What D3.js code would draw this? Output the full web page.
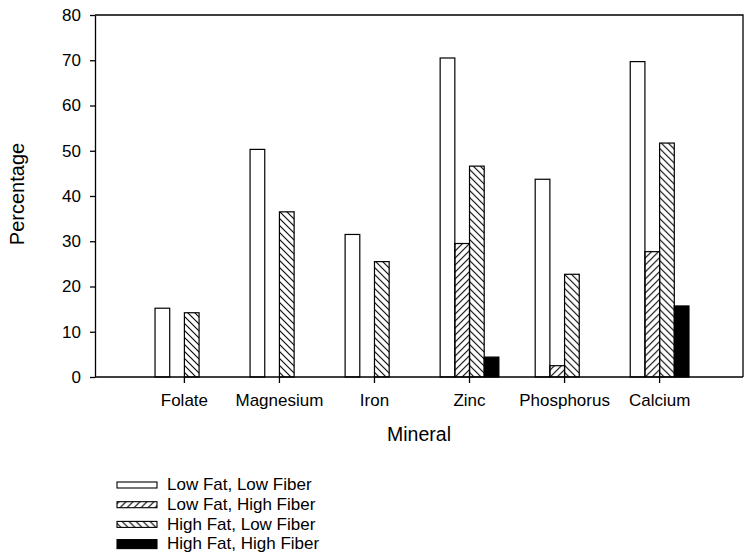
<!DOCTYPE html>
<html>
<head>
<meta charset="utf-8">
<script src="https://cdn.jsdelivr.net/npm/d3@7"></script>
<style>
  body { margin: 0; background: #fff; }
  text { font-family: "Liberation Sans", Arial, Helvetica, sans-serif; fill: #000; }
</style>
</head>
<body>
<div id="chart"></div>
<script>
// data
var minerals = ["Folate", "Magnesium", "Iron", "Zinc", "Phosphorus", "Calcium"];
var groups = ["Low Fat, Low Fiber", "Low Fat, High Fiber", "High Fat, Low Fiber", "High Fat, High Fiber"];
var lowFatLowFiber   = [15.2, 50.3, 31.5, 70.5, 43.7, 69.7];
var lowFatHighFiber  = [0, 0, 0, 29.5, 2.5, 27.7];
var highFatLowFiber  = [14.2, 36.5, 25.5, 46.6, 22.7, 51.7];
var highFatHighFiber = [0, 0, 0, 4.4, 0, 15.7];
var yTicks = [0, 10, 20, 30, 40, 50, 60, 70, 80];

var series = [lowFatLowFiber, lowFatHighFiber, highFatLowFiber, highFatHighFiber];
var fills = ["#fff", "url(#hatchUp)", "url(#hatchDown)", "#000"];

var W = 745, H = 559;
// note: "top" is taken by window.top, so plotTop
var plotLeft = 95, plotTop = 15, plotW = 648, plotH = 362;

var svg = d3.select("#chart").append("svg")
    .attr("width", W)
    .attr("height", H);

var defs = svg.append("defs");
defs.append("pattern")
    .attr("id", "hatchUp")
    .attr("patternUnits", "userSpaceOnUse")
    .attr("width", 7).attr("height", 7)
  .append("path")
    .attr("d", "M0,7 L7,0 M-1,1 L1,-1 M6,8 L8,6")
    .attr("stroke", "#000").attr("stroke-width", 1.1);
defs.append("pattern")
    .attr("id", "hatchDown")
    .attr("patternUnits", "userSpaceOnUse")
    .attr("width", 7).attr("height", 7)
  .append("path")
    .attr("d", "M0,0 L7,7 M-1,6 L1,8 M6,-1 L8,1")
    .attr("stroke", "#000").attr("stroke-width", 1.1);

var x0 = d3.scaleBand()
    .domain(minerals)
    .range([plotLeft + 3, plotLeft + plotW + 3])
    .paddingInner(0.382)
    .paddingOuter(0.6);

var x1 = d3.scaleBand()
    .domain(groups)
    .range([0, x0.bandwidth()]);

var y = d3.scaleLinear()
    .domain([0, 80])
    .range([plotTop + plotH, plotTop]);

// frame top + right
svg.append("path")
    .attr("d", "M" + plotLeft + "," + plotTop + "H" + (plotLeft + plotW) + "V" + (plotTop + plotH))
    .attr("fill", "none")
    .attr("stroke", "#000")
    .attr("stroke-width", 1.3);

// bars
minerals.forEach(function(m, i) {
    var g = svg.append("g").attr("transform", "translate(" + x0(m) + ",0)");
    groups.forEach(function(s, j) {
        var v = series[j][i];
        if (v <= 0) return;
        g.append("rect")
            .attr("x", x1(s))
            .attr("y", y(v))
            .attr("width", x1.bandwidth())
            .attr("height", y(0) - y(v))
            .attr("fill", fills[j])
            .attr("stroke", "#000")
            .attr("stroke-width", 1.2);
    });
});

// axes
var yAxis = d3.axisLeft(y).tickValues(yTicks).tickSize(5).tickPadding(9).tickSizeOuter(0);
var yg = svg.append("g")
    .attr("transform", "translate(" + plotLeft + ",0)")
    .call(yAxis);
yg.selectAll("text").style("font-size", "17px");

var xAxis = d3.axisBottom(x0).tickSize(6).tickPadding(11).tickSizeOuter(0);
var xg = svg.append("g")
    .attr("transform", "translate(0," + (plotTop + plotH) + ")")
    .call(xAxis);
xg.select(".domain").attr("d", "M" + plotLeft + ",0H" + (plotLeft + plotW));
xg.selectAll("text").style("font-size", "17px");

svg.selectAll(".domain, .tick line").attr("stroke", "#000").attr("stroke-width", 1.3);

// axis titles
svg.append("text")
    .attr("transform", "translate(24,194) rotate(-90)")
    .attr("text-anchor", "middle")
    .style("font-size", "20px")
    .text("Percentage");

svg.append("text")
    .attr("x", plotLeft + plotW / 2)
    .attr("y", 441)
    .attr("text-anchor", "middle")
    .style("font-size", "19.5px")
    .text("Mineral");

// legend
var swatchH = [6, 6, 6, 9];
var legend = svg.append("g").attr("transform", "translate(117,484)");
groups.forEach(function(s, j) {
    var row = legend.append("g").attr("transform", "translate(0," + (j * 19.7) + ")");
    row.append("rect")
        .attr("x", 0).attr("y", 1 - swatchH[j] / 2)
        .attr("width", 40).attr("height", swatchH[j])
        .attr("fill", fills[j])
        .attr("stroke", "#000")
        .attr("stroke-width", 1.1);
    row.append("text")
        .attr("x", 50)
        .attr("y", 0)
        .attr("dy", "0.36em")
        .style("font-size", "17px")
        .text(s);
});
</script>
</body>
</html>
